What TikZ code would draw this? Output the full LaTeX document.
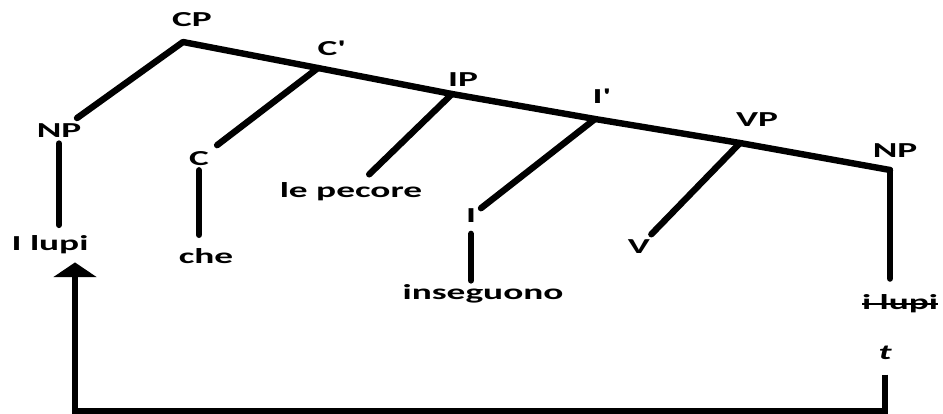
\documentclass[tikz,border=0pt]{standalone}
\usepackage{fontspec}
\setmainfont{Carlito}[FakeStretch=1.75]
\newcommand{\strikeout}[1]{\setbox0\hbox{#1}\rlap{\rule[0.45ex]{\wd0}{1.3pt}}\box0}
\usetikzlibrary{arrows.meta}

\begin{document}
\begin{tikzpicture}[x=0.75pt, y=-0.75pt, >={Triangle[width=32pt, length=11pt]},
  every node/.style={font=\fontsize{16}{19}\selectfont\bfseries, inner sep=2pt},
  branch/.style={line width=4.8pt, line cap=round, line join=round},
  move/.style={line width=4.8pt, line join=miter, ->}]
  \useasboundingbox (0,0) rectangle (943,414);
  % labels
  \node (cp) at (192,20) {CP};
  \node (npl) at (59,131) {NP};
  \node (cbar) at (330,48) {C\textquotesingle};
  \node (c) at (199,159) {C};
  \node (ip) at (463,80) {IP};
  \node (ibar) at (600,96) {I\textquotesingle};
  \node (vp) at (757,120) {VP};
  \node (npr) at (895,151) {NP};
  \node (lupi) at (50,245) {I lupi};
  \node (che) at (206,256) {che};
  \node (pecore) at (351,192) {le pecore};
  \node (i) at (471,216) {I};
  \node (inseguono) at (483,294) {inseguono};
  \node (v) at (639,247) {V};
  \node (lupit) at (900,304) {\strikeout{i lupi}};
  \node (t) at (885,353) {\itshape t};
  % junctions
  \coordinate (cpv) at (183,42);
  \coordinate (cbarv) at (318,68);
  \coordinate (ipv) at (452,94);
  \coordinate (ibarv) at (595,119);
  \coordinate (vpv) at (740,143);
  \coordinate (nprv) at (890,170);
  \coordinate (base) at (75,411);
  % tree
  \draw[branch, shorten <=4pt] (npl) -- (cpv) -- (cbarv) -- (ipv) -- (ibarv) -- (vpv) -- (nprv);
  \draw[branch, shorten >=5pt] (cbarv) -- (c);
  \draw[branch, shorten >=6pt] (ipv) -- (pecore);
  \draw[branch, shorten >=2pt] (ibarv) -- (i);
  \draw[branch, shorten >=3pt] (vpv) -- (v);
  \draw[branch, shorten <=2pt, shorten >=6pt] (npl.south) -- (npl.south |- lupi.north);
  \draw[branch, shorten <=1pt, shorten >=8pt] (c.south) -- (c.south |- che.north);
  \draw[branch, shorten <=6pt, shorten >=1pt] (i.south) -- (i.south |- inseguono.north);
  \draw[branch, shorten >=10pt] (nprv) -- (nprv |- lupit.north);
  % movement
  \draw[move, shorten <=9pt, shorten >=4pt] (t.south) |- (base) -- (base |- lupi.south);
\end{tikzpicture}
\end{document}
